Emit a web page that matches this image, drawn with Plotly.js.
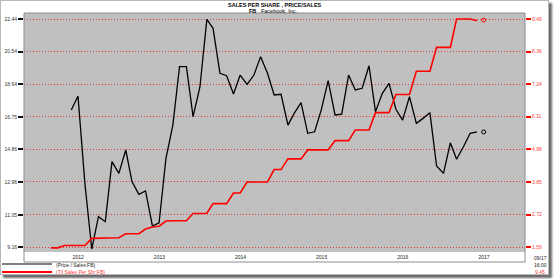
<!DOCTYPE html>
<html>
<head>
<meta charset="utf-8">
<script src="https://cdn.plot.ly/plotly-3.0.1.min.js"></script>
<style>
  html, body { margin: 0; padding: 0; background: #ffffff; }
  #frame { position: absolute; left: 0; top: 0; width: 547px; height: 273px;
           border: 1px solid #b8b8b8; box-shadow: 3px 3px 2px #6a6a6a; background: #fff; }
  #chart { position: absolute; left: 0; top: 0; width: 554px; height: 279px; }
</style>
</head>
<body>
<div id="frame"></div>
<div id="chart"></div>
<script>
// Monthly dates, Mar 2012 .. Jun 2017
const months = [
  "2012-03-01","2012-04-01","2012-05-01","2012-06-01","2012-07-01","2012-08-01","2012-09-01","2012-10-01","2012-11-01","2012-12-01",
  "2013-01-01","2013-02-01","2013-03-01","2013-04-01","2013-05-01","2013-06-01","2013-07-01","2013-08-01","2013-09-01","2013-10-01","2013-11-01","2013-12-01",
  "2014-01-01","2014-02-01","2014-03-01","2014-04-01","2014-05-01","2014-06-01","2014-07-01","2014-08-01","2014-09-01","2014-10-01","2014-11-01","2014-12-01",
  "2015-01-01","2015-02-01","2015-03-01","2015-04-01","2015-05-01","2015-06-01","2015-07-01","2015-08-01","2015-09-01","2015-10-01","2015-11-01","2015-12-01",
  "2016-01-01","2016-02-01","2016-03-01","2016-04-01","2016-05-01","2016-06-01","2016-07-01","2016-08-01","2016-09-01","2016-10-01","2016-11-01","2016-12-01",
  "2017-01-01","2017-02-01","2017-03-01","2017-04-01","2017-05-01","2017-06-01"
];

// Price / Sales : FB (left axis)
const priceSales = [
  null, null, null,
  17.15, 17.96, 12.88, 9.06, 10.94, 10.65, 14.14,
  13.46, 14.82, 12.98, 12.24, 12.44, 10.40, 10.59, 14.34, 16.27, 19.67, 19.67, 16.76,
  18.50, 22.42, 21.90, 19.28, 19.14, 18.08, 19.18, 18.64, 19.18, 20.25, 19.28, 18.02,
  18.06, 16.27, 16.95, 17.57, 15.79, 15.88, 17.15, 18.85, 16.86, 16.91, 19.18, 18.31,
  18.41, 19.72, 17.05, 18.12, 18.70, 17.19, 16.56, 17.92, 16.37, 16.66, 16.99, 13.89,
  13.46, 15.24, 14.28, 15.01, 15.79, 15.87
];

// T/l Sales Per Shr : FB (right axis)
const salesPerShare = [
  1.57, 1.57, 1.65, 1.65, 1.65, 1.65, 1.90, 1.91, 1.91, 1.92,
  1.92, 2.06, 2.06, 2.06, 2.22, 2.29, 2.32, 2.50, 2.51, 2.51, 2.51, 2.76,
  2.77, 2.77, 3.10, 3.10, 3.10, 3.47, 3.47, 3.85, 3.85, 3.85, 3.85, 4.28,
  4.28, 4.65, 4.65, 4.65, 4.96, 4.96, 4.96, 4.96, 5.28, 5.28, 5.28, 5.65,
  5.65, 5.65, 6.25, 6.25, 6.25, 6.88, 6.88, 6.88, 7.68, 7.68, 7.68, 8.51,
  8.51, 8.51, 9.49, 9.49, 9.49, 9.43
];

// Last values (open circle markers)
const lastDate = ["2017-07-01"];
const lastPriceSales = [15.87];
const lastSalesPerShare = [9.45];

// Axis tick labels
const leftTicks = [9.16, 11.05, 12.96, 14.86, 16.75, 18.64, 20.54, 22.44];
const leftTickText = ["9.16", "11.05", "12.96", "14.86", "16.75", "18.64", "20.54", "22.44"];
const rightTicks = [1.59, 2.72, 3.85, 4.98, 6.11, 7.24, 8.36, 9.49];
const rightTickText = ["1.59", "2.72", "3.85", "4.98", "6.11", "7.24", "8.36", "9.49"];

const titleLine1 = "SALES PER SHARE , PRICE/SALES";
const titleLine2 = "<b>FB</b>   Facebook, Inc.";
const legendNames = ["(Price / Sales:FB)", "(T/l Sales Per Shr:FB)"];
const stampDate = "09/17";
const stampTime = "16:00";
const stampValue = "9.45";

const RED = "#ff0000";
const FONT = "Liberation Sans, Arial, sans-serif";
const X_RANGE = ["2011-11-01", "2018-01-03"];

const traces = [
  { x: months, y: salesPerShare, xaxis: "x", yaxis: "y2", type: "scatter", mode: "lines",
    line: { color: RED, width: 1.6 }, hoverinfo: "skip" },
  { x: months, y: priceSales, xaxis: "x", yaxis: "y", type: "scatter", mode: "lines",
    line: { color: "#000000", width: 1.3 }, hoverinfo: "skip" },
  { x: lastDate, y: lastSalesPerShare, xaxis: "x", yaxis: "y2", type: "scatter", mode: "markers",
    marker: { symbol: "circle-open", size: 4, color: RED, line: { width: 1, color: RED } } },
  { x: lastDate, y: lastPriceSales, xaxis: "x", yaxis: "y", type: "scatter", mode: "markers",
    marker: { symbol: "circle-open", size: 4, color: "#000", line: { width: 1, color: "#000" } } }
];

const PW = 501, PH = 239, L = 24, T = 13;
function px(x) { return (x - L) / PW; }
function py(y) { return (T + PH - y) / PH; }

const layout = {
  width: 554, height: 279,
  margin: { l: 24, r: 29, t: 13, b: 27, pad: 0 },
  paper_bgcolor: "rgba(0,0,0,0)",
  plot_bgcolor: "#c0c0c0",
  showlegend: false,
  font: { family: FONT, size: 5, color: "#222" },
  // year labels, centred in each year
  xaxis: {
    type: "date", range: X_RANGE,
    tick0: "2012-01-01", dtick: "M12", tickformat: "%Y", ticklabelmode: "period",
    ticks: "", ticklen: 0, ticklabelstandoff: 1,
    tickfont: { family: FONT, size: 5, color: "#222" },
    showgrid: false, zeroline: false, showline: false, fixedrange: true
  },
  // tick marks only: years (long) and quarters (short)
  xaxis2: {
    type: "date", range: X_RANGE, overlaying: "x", side: "bottom", anchor: "y",
    tick0: "2012-01-01", dtick: "M12", showticklabels: false,
    ticks: "outside", ticklen: 4, tickwidth: 1, tickcolor: "#555",
    minor: { dtick: "M3", ticks: "outside", ticklen: 2, tickcolor: "#777", showgrid: false },
    showgrid: false, zeroline: false, showline: false, fixedrange: true
  },
  yaxis: {
    range: [8.887, 22.789], tickmode: "array", tickvals: leftTicks, ticktext: leftTickText,
    ticks: "outside", ticklen: 5, tickwidth: 2, tickcolor: "#111",
    tickfont: { family: FONT, size: 5, color: "#333" },
    showgrid: true, gridcolor: "#e23a3a", griddash: "1px,2px", gridwidth: 1,
    zeroline: false, showline: false, fixedrange: true
  },
  yaxis2: {
    overlaying: "y", side: "right",
    range: [1.427, 9.698], tickmode: "array", tickvals: rightTicks, ticktext: rightTickText,
    ticks: "outside", ticklen: 5, tickwidth: 2, tickcolor: RED,
    tickfont: { family: FONT, size: 5, color: "#ff3a3a" },
    showgrid: false, zeroline: false, showline: false, fixedrange: true
  },
  shapes: [
    { type: "rect", xref: "paper", yref: "paper", x0: 0, x1: 1, y0: -10 / PH, y1: 1,
      line: { color: "#8c8c8c", width: 1 }, fillcolor: "rgba(0,0,0,0)" },
    { type: "line", xref: "paper", yref: "paper", x0: px(2), x1: px(52), y0: py(264), y1: py(264),
      line: { color: "#000", width: 1 } },
    { type: "line", xref: "paper", yref: "paper", x0: px(2), x1: px(52), y0: py(272), y1: py(272),
      line: { color: RED, width: 2 } }
  ],
  annotations: [
    { text: "<b>" + titleLine1 + "</b>", xref: "paper", yref: "paper", x: px(275), y: py(5),
      xanchor: "center", yanchor: "middle", showarrow: false, font: { family: FONT, size: 5.5, color: "#000" } },
    { text: titleLine2, xref: "paper", yref: "paper", x: px(273), y: py(11),
      xanchor: "center", yanchor: "middle", showarrow: false, font: { family: FONT, size: 5.5, color: "#000" } },
    { text: legendNames[0], xref: "paper", yref: "paper", x: px(53.5), y: py(264.5),
      xanchor: "left", yanchor: "middle", showarrow: false, font: { family: FONT, size: 5, color: "#222" } },
    { text: legendNames[1], xref: "paper", yref: "paper", x: px(53.5), y: py(272),
      xanchor: "left", yanchor: "middle", showarrow: false, font: { family: FONT, size: 5, color: "#ff3a3a" } },
    { text: stampDate, xref: "paper", yref: "paper", x: px(540), y: py(257.5),
      xanchor: "center", yanchor: "middle", showarrow: false, font: { family: FONT, size: 5, color: "#222" } },
    { text: stampTime, xref: "paper", yref: "paper", x: px(540), y: py(264.5),
      xanchor: "center", yanchor: "middle", showarrow: false, font: { family: FONT, size: 5, color: "#222" } },
    { text: stampValue, xref: "paper", yref: "paper", x: px(540), y: py(271.5),
      xanchor: "center", yanchor: "middle", showarrow: false, font: { family: FONT, size: 5, color: "#ff3a3a" } }
  ]
};

Plotly.newPlot("chart", traces, layout, { displayModeBar: false, staticPlot: true });
</script>
</body>
</html>
